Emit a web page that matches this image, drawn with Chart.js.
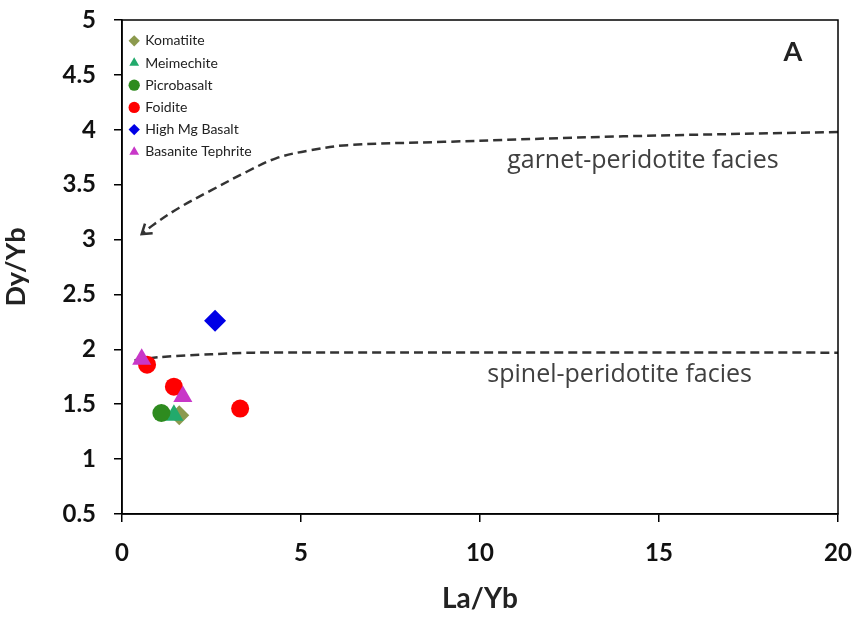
<!DOCTYPE html>
<html><head><meta charset="utf-8">
<script src="https://cdn.jsdelivr.net/npm/chart.js@4/dist/chart.umd.min.js"></script>
<style>html,body{margin:0;padding:0;background:#fff}#wrap{width:857px;height:621px}</style>
</head><body><div id="wrap"><canvas id="c" width="857" height="621"></canvas></div>
<script>
// ---- data ----
const seriesNames = ['Komatiite','Meimechite','Picrobasalt','Foidite','High Mg Basalt','Basanite Tephrite'];
const komatiiteX = [1.6];   const komatiiteY = [1.40];
const meimechiteX = [1.45]; const meimechiteY = [1.40];
const picrobasaltX = [1.1]; const picrobasaltY = [1.42];
const foiditeX = [0.7, 1.45, 3.3]; const foiditeY = [1.86, 1.66, 1.46];
const highMgBasaltX = [2.6]; const highMgBasaltY = [2.26];
const basaniteX = [0.55, 1.7]; const basaniteY = [1.91, 1.57];
const garnetX = [20, 14, 9, 6.3, 5.2, 4.3, 3.5, 2.5, 1.6, 0.9, 0.55];
const garnetY = [3.98, 3.94, 3.89, 3.86, 3.81, 3.74, 3.62, 3.45, 3.29, 3.14, 3.05];
const spinelX = [0.35, 1.1, 2.5, 3.7, 20];
const spinelY = [1.90, 1.93, 1.955, 1.97, 1.97];
const xTicks = [0, 5, 10, 15, 20];
const yTicks = [0.5, 1, 1.5, 2, 2.5, 3, 3.5, 4, 4.5, 5];
const labelGarnet = 'garnet-peridotite facies';
const labelSpinel = 'spinel-peridotite facies';
const panelLabel = 'A';

const pts = (xs, ys) => xs.map((x, i) => ({x, y: ys[i]}));

const FONT = 'Lato, "Open Sans", sans-serif';
const FONT2 = '"Open Sans", Lato, sans-serif';

const framePlugin = {
  id: 'frame',
  afterDatasetsDraw(chart) {
    const {ctx, chartArea: a, scales} = chart;
    ctx.save();
    // arrowhead at end of garnet curve
    const meta = chart.getDatasetMeta(6);
    const n = meta.data.length;
    const p1 = meta.data[n - 2], p2 = meta.data[n - 1];
    const ang = Math.atan2(p2.y - p1.y, p2.x - p1.x);
    ctx.strokeStyle = '#333';
    ctx.lineWidth = 2.5;
    ctx.setLineDash([]);
    ctx.beginPath();
    const L = 11;
    ctx.moveTo(p2.x - L * Math.cos(ang - 0.6), p2.y - L * Math.sin(ang - 0.6));
    ctx.lineTo(p2.x, p2.y);
    ctx.lineTo(p2.x - L * Math.cos(ang + 0.6), p2.y - L * Math.sin(ang + 0.6));
    ctx.stroke();
    // text annotations
    ctx.fillStyle = '#404040';
    ctx.font = '25px ' + FONT2;
    ctx.textAlign = 'center';
    ctx.textBaseline = 'middle';
    ctx.fillText(labelGarnet, scales.x.getPixelForValue(14.55), scales.y.getPixelForValue(3.72));
    ctx.fillText(labelSpinel, scales.x.getPixelForValue(13.9), scales.y.getPixelForValue(1.77));
    ctx.fillStyle = '#222';
    ctx.font = 'bold 27px ' + FONT;
    ctx.fillText(panelLabel, scales.x.getPixelForValue(18.74), scales.y.getPixelForValue(4.71));
    // frame
    ctx.strokeStyle = '#000';
    ctx.lineWidth = 1.5;
    ctx.strokeRect(a.left, a.top, a.right - a.left, a.bottom - a.top);
    ctx.restore();
  }
};

const mk = (label, data, color, style, r, order) => ({
  label, data, backgroundColor: color, borderColor: color, pointStyle: style,
  pointRadius: r, pointHoverRadius: r, borderWidth: 0, showLine: false, order
});

new Chart(document.getElementById('c'), {
  type: 'scatter',
  data: {
    datasets: [
      mk(seriesNames[0], pts(komatiiteX, komatiiteY), '#8c9a4e', 'rectRot', 10, 6),
      mk(seriesNames[1], pts(meimechiteX, meimechiteY), '#22aa6c', 'triangle', 11, 5),
      mk(seriesNames[2], pts(picrobasaltX, picrobasaltY), '#2e8b1f', 'circle', 9, 4),
      mk(seriesNames[3], pts(foiditeX, foiditeY), '#ff0000', 'circle', 9, 3),
      mk(seriesNames[4], pts(highMgBasaltX, highMgBasaltY), '#0000e6', 'rectRot', 11, 2),
      mk(seriesNames[5], pts(basaniteX, basaniteY), '#c837c8', 'triangle', 11, 1),
      { label: 'garnet', data: pts(garnetX, garnetY), showLine: true, borderColor: '#333', borderWidth: 2.5,
        borderDash: [9, 5], pointRadius: 0, tension: 0.35, order: 10 },
      { label: 'spinel', data: pts(spinelX, spinelY), showLine: true, borderColor: '#333', borderWidth: 2.5,
        borderDash: [9, 5], pointRadius: 0, tension: 0.3, order: 10 }
    ]
  },
  options: {
    responsive: false,
    animation: false,
    layout: { padding: { left: 0, right: 19, top: 20, bottom: 0 } },
    plugins: {
      tooltip: { enabled: false },
      legend: {
        position: 'chartArea',
        align: 'start',
        title: { display: true, text: ' ', font: { family: FONT, size: 13 }, padding: { top: 7, bottom: 3 } },
        labels: {
          usePointStyle: true,
          boxWidth: 8, boxHeight: 8,
          padding: 8.2,
          color: '#222',
          font: { family: FONT, size: 14 },
          filter: (item) => item.datasetIndex < 6,
          sort: (a, b) => a.datasetIndex - b.datasetIndex
        }
      }
    },
    scales: {
      x: {
        type: 'linear', min: 0, max: 20,
        afterBuildTicks: (s) => { s.ticks = xTicks.map(v => ({value: v})); },
        afterFit: (s) => { s.height = 107; s.paddingLeft = 0; s.paddingRight = 0; },
        grid: { drawOnChartArea: false, tickLength: 8, color: '#000', lineWidth: 1.5 },
        border: { color: '#000', width: 1.5 },
        ticks: { color: '#111', font: { family: FONT, size: 24, weight: 'bold' }, padding: 17, callback: (v) => String(v) },
        title: { display: true, text: 'La/Yb', color: '#222', font: { family: FONT, size: 28, weight: 'bold' }, padding: { top: 0, bottom: 5 } }
      },
      y: {
        type: 'linear', min: 0.5, max: 5,
        afterBuildTicks: (s) => { s.ticks = yTicks.map(v => ({value: v})); },
        afterFit: (s) => { s.width = 122; s.paddingTop = 0; s.paddingBottom = 0; },
        grid: { drawOnChartArea: false, tickLength: 8, color: '#000', lineWidth: 1.5 },
        border: { color: '#000', width: 1.5 },
        ticks: { color: '#111', font: { family: FONT, size: 24, weight: 'bold' }, padding: 18, callback: (v) => String(v) },
        title: { display: true, text: 'Dy/Yb', color: '#222', font: { family: FONT, size: 27, weight: 'bold' }, padding: { top: 0, bottom: 8 } }
      }
    }
  },
  plugins: [framePlugin]
});
</script></body></html>
